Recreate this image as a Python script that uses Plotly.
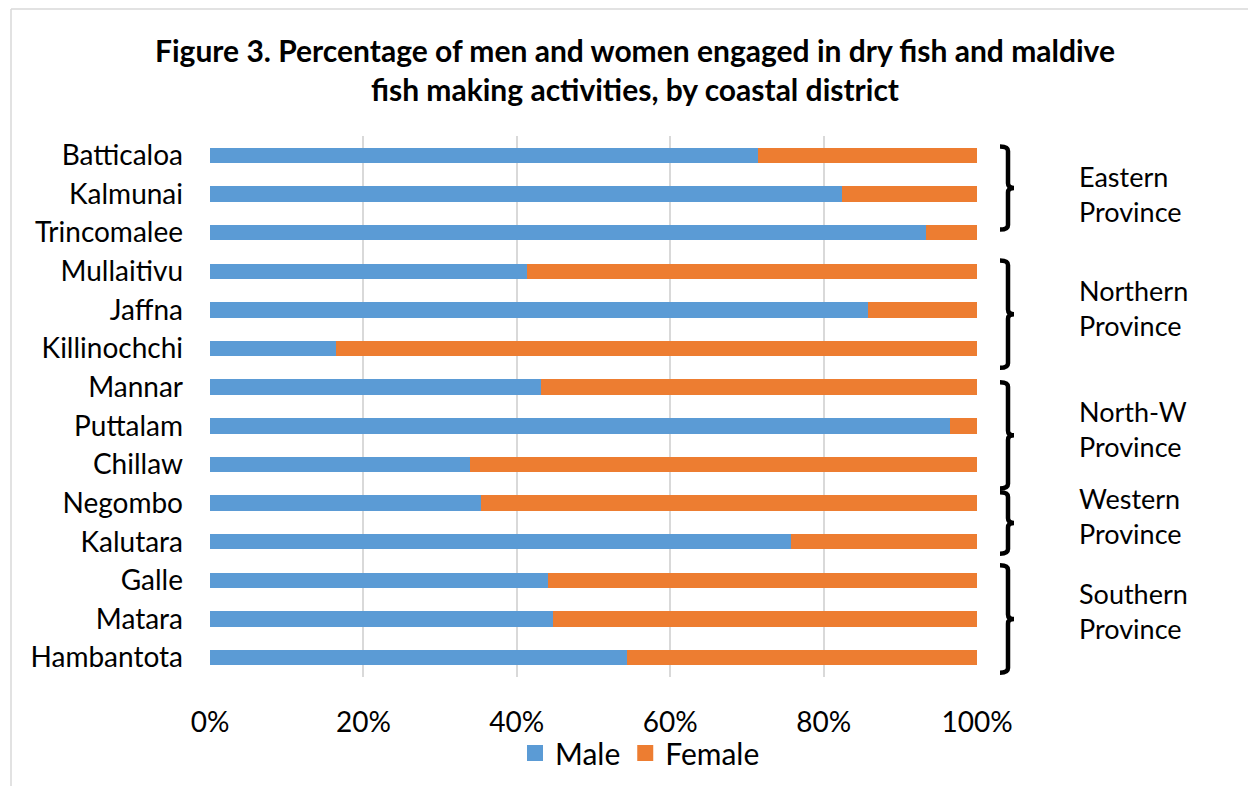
import plotly.graph_objects as go

districts = ["Batticaloa", "Kalmunai", "Trincomalee", "Mullaitivu", "Jaffna", "Killinochchi",
             "Mannar", "Puttalam", "Chillaw", "Negombo", "Kalutara", "Galle", "Matara", "Hambantota"]
male = [71.4, 82.4, 93.3, 41.3, 85.8, 16.4, 43.2, 96.5, 33.9, 35.3, 75.7, 44.1, 44.7, 54.4]
female = [28.6, 17.6, 6.7, 58.7, 14.2, 83.6, 56.8, 3.5, 66.1, 64.7, 24.3, 55.9, 55.3, 45.6]
x_ticks = [0, 20, 40, 60, 80, 100]
x_tick_text = ["0%", "20%", "40%", "60%", "80%", "100%"]
series_names = ["Male", "Female"]
series_colors = ["#5B9BD5", "#ED7D31"]

# province groups: label, brace span (in category units) and label position
provinces = ["Eastern<br>Province", "Northern<br>Province", "North-W<br>Province",
             "Western<br>Province", "Southern<br>Province"]
brace_top = [-0.23, 2.72, 5.87, 8.72, 10.61]
brace_bot = [1.92, 5.5, 8.62, 10.31, 13.39]
label_pos = [1.0, 3.96, 7.07, 9.33, 11.79]

W, H = 1248, 786
L, R, T, B = 210, 977, 136, 677

def px2x(px):
    return (px - L) / (R - L)

def px2y(py):
    return (B - py) / (B - T)

FONT = "Lato"

fig = go.Figure()
for vals, name, col in zip([male, female], series_names, series_colors):
    fig.add_trace(go.Bar(y=districts, x=vals, name=name, orientation="h", showlegend=False,
                         marker=dict(color=col, line=dict(width=0)), width=0.4))
# legend entries with larger square swatches
for name, col in zip(series_names, series_colors):
    fig.add_trace(go.Scatter(x=[None], y=[None], mode="markers", name=name,
                             marker=dict(symbol="square", size=16, color=col)))

shapes = []
# chart frame (partially visible)
shapes.append(dict(type="line", xref="paper", yref="paper", x0=px2x(11), x1=px2x(1250),
                   y0=px2y(9), y1=px2y(9), line=dict(color="#d9d9d9", width=1.5), layer="above"))
shapes.append(dict(type="line", xref="paper", yref="paper", x0=px2x(11), x1=px2x(11),
                   y0=px2y(9), y1=px2y(790), line=dict(color="#d9d9d9", width=1.5), layer="above"))

# braces
xl, xv, xp = px2x(1000), px2x(1008), px2x(1014)
for t, b in zip(brace_top, brace_bot):
    m = (t + b) / 2
    d = 0.12
    path = (f"M {xl},{t} Q {xv},{t} {xv},{t + d} "
            f"L {xv},{m - d} Q {xv},{m} {xp},{m} Q {xv},{m} {xv},{m + d} "
            f"L {xv},{b - d} Q {xv},{b} {xl},{b}")
    shapes.append(dict(type="path", xref="paper", yref="y", path=path,
                       line=dict(color="black", width=4.5)))

annotations = []
for lab, yp in zip(provinces, label_pos):
    annotations.append(dict(text=lab, xref="paper", yref="y", x=px2x(1077), y=yp,
                            xanchor="left", yanchor="middle", align="left", showarrow=False,
                            font=dict(family=FONT, size=27, color="black")))

fig.update_layout(
    width=W, height=H,
    margin=dict(l=L, r=W - R, t=T, b=H - B, autoexpand=False),
    paper_bgcolor="white", plot_bgcolor="white",
    barmode="stack", bargap=0.6,
    title=dict(text="<b>Figure 3. Percentage of men and women engaged in dry fish and maldive<br>fish making activities, by coastal district</b>",
               x=635 / W, xref="container", xanchor="center", y=1 - 62 / H, yref="container",
               yanchor="middle", font=dict(family=FONT, size=30, color="black")),
    xaxis=dict(range=[0, 100], tickvals=x_ticks, ticktext=x_tick_text, showgrid=True,
               gridcolor="#d9d9d9", gridwidth=1.5, zeroline=False, showline=False,
               ticks="", ticklabelstandoff=26, tickfont=dict(family=FONT, size=28, color="black"),
               fixedrange=True),
    yaxis=dict(categoryorder="array", categoryarray=districts, autorange="reversed",
               showgrid=False, zeroline=False, showline=False, ticks="", ticklabelstandoff=26,
               tickfont=dict(family=FONT, size=28, color="black")),
    legend=dict(orientation="h", x=px2x(640), xanchor="center", y=px2y(753), yanchor="middle",
                bgcolor="rgba(0,0,0,0)", font=dict(family=FONT, size=30, color="black"),
                traceorder="normal", itemwidth=30, tracegroupgap=0),
    shapes=shapes, annotations=annotations,
    showlegend=True,
)

fig.write_html("out.html")
